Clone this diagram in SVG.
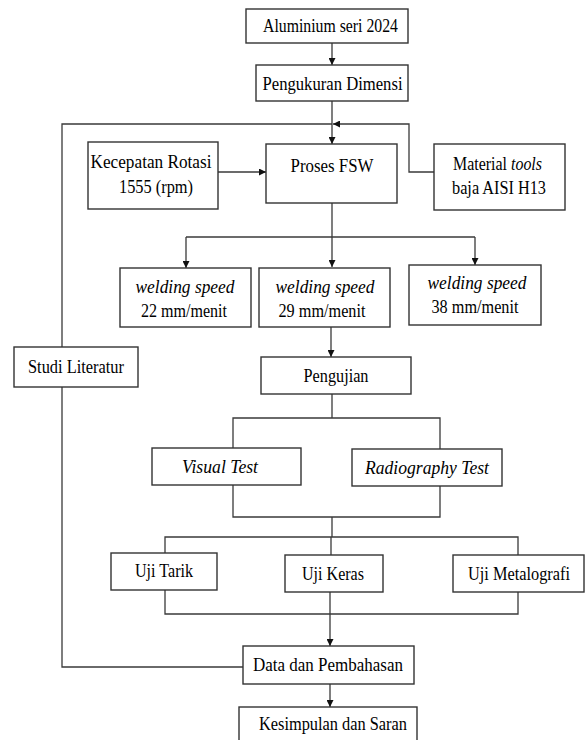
<svg xmlns="http://www.w3.org/2000/svg" width="585" height="740" viewBox="0 0 585 740">
<style>
.box{fill:#fff;stroke:#333;stroke-width:1.4}
.ln{fill:none;stroke:#3a3a3a;stroke-width:1.3}
text{font-family:"Liberation Serif","Times New Roman",serif;font-size:18.5px;fill:#000;text-anchor:middle}
.it{font-style:italic}
.st{text-anchor:start}
</style>
<defs>
<marker id="ah" viewBox="0 0 10 10" refX="10" refY="5" markerWidth="7" markerHeight="7" markerUnits="userSpaceOnUse" orient="auto">
<path d="M0,0 L10,5 L0,10 Z" fill="#111"/>
</marker>
</defs>
<rect width="585" height="740" fill="#fff"/>
<g id="connectors">
<path class="ln" d="M332,43 V65" marker-end="url(#ah)"/>
<path class="ln" d="M332,101 V144" marker-end="url(#ah)"/>
<path class="ln" d="M434,172 H409 V124 H333" marker-end="url(#ah)"/>
<path class="ln" d="M62,347 V124 H332"/>
<path class="ln" d="M243,667 H62 V387"/>
<path class="ln" d="M218,172 H266" marker-end="url(#ah)"/>
<path class="ln" d="M332,203 V237"/>
<path class="ln" d="M186,237 H475"/>
<path class="ln" d="M186,237 V268" marker-end="url(#ah)"/>
<path class="ln" d="M332,237 V267" marker-end="url(#ah)"/>
<path class="ln" d="M475,237 V265" marker-end="url(#ah)"/>
<path class="ln" d="M331,327 V357" marker-end="url(#ah)"/>
<path class="ln" d="M332,394 V418"/>
<path class="ln" d="M233,448 V418 H440 V449"/>
<path class="ln" d="M233,485 V517 H440 V486"/>
<path class="ln" d="M332,517 V537"/>
<path class="ln" d="M165,553 V537 H518 V555"/>
<path class="ln" d="M331,537 V555"/>
<path class="ln" d="M165,590 V614 H518 V592"/>
<path class="ln" d="M330,592 V646" marker-end="url(#ah)"/>
<path class="ln" d="M330,684 V707" marker-end="url(#ah)"/>
</g>
<g id="aluminium"><rect class="box" x="246" y="9" width="162" height="34"/><text x="330.5" y="32" textLength="135" lengthAdjust="spacingAndGlyphs">Aluminium seri 2024</text></g>
<g id="pengukuran"><rect class="box" x="256" y="65" width="152" height="36"/><text x="332.5" y="90" textLength="140" lengthAdjust="spacingAndGlyphs">Pengukuran Dimensi</text></g>
<g id="kecepatan"><rect class="box" x="88" y="142" width="130" height="67"/><text x="151" y="168" textLength="121" lengthAdjust="spacingAndGlyphs">Kecepatan Rotasi</text><text x="156" y="193" textLength="74" lengthAdjust="spacingAndGlyphs">1555 (rpm)</text></g>
<g id="proses"><rect class="box" x="266" y="144" width="131" height="59"/><text x="332" y="172" textLength="83" lengthAdjust="spacingAndGlyphs">Proses FSW</text></g>
<g id="material"><rect class="box" x="434" y="144" width="131" height="66"/><text x="497.5" y="170" textLength="89" lengthAdjust="spacingAndGlyphs">Material <tspan class="it">tools</tspan></text><text x="499" y="194" textLength="94" lengthAdjust="spacingAndGlyphs">baja AISI H13</text></g>
<g id="ws22"><rect class="box" x="120" y="268" width="131" height="59"/><text class="it" x="185" y="293" textLength="99" lengthAdjust="spacingAndGlyphs">welding speed</text><text x="184" y="317" textLength="86" lengthAdjust="spacingAndGlyphs">22 mm/menit</text></g>
<g id="ws29"><rect class="box" x="259" y="268" width="131" height="59"/><text class="it" x="325" y="293" textLength="99" lengthAdjust="spacingAndGlyphs">welding speed</text><text x="322" y="317" textLength="87" lengthAdjust="spacingAndGlyphs">29 mm/menit</text></g>
<g id="ws38"><rect class="box" x="409" y="265" width="132" height="60"/><text class="it" x="477" y="289" textLength="99" lengthAdjust="spacingAndGlyphs">welding speed</text><text x="475" y="313" textLength="87" lengthAdjust="spacingAndGlyphs">38 mm/menit</text></g>
<g id="studi"><rect class="box" x="14" y="347" width="124" height="40"/><text x="76" y="373" textLength="96" lengthAdjust="spacingAndGlyphs">Studi Literatur</text></g>
<g id="pengujian"><rect class="box" x="261" y="357" width="150" height="37"/><text x="336" y="382" textLength="65" lengthAdjust="spacingAndGlyphs">Pengujian</text></g>
<g id="visual"><rect class="box" x="152" y="448" width="149" height="37"/><text class="it" x="220" y="473" textLength="76" lengthAdjust="spacingAndGlyphs">Visual Test</text></g>
<g id="radiography"><rect class="box" x="352" y="449" width="150" height="37"/><text class="it" x="427" y="474" textLength="124" lengthAdjust="spacingAndGlyphs">Radiography Test</text></g>
<g id="ujitarik"><rect class="box" x="111" y="553" width="106" height="37"/><text x="164" y="577" textLength="58" lengthAdjust="spacingAndGlyphs">Uji Tarik</text></g>
<g id="ujikeras"><rect class="box" x="285" y="555" width="98" height="37"/><text x="333" y="580" textLength="62" lengthAdjust="spacingAndGlyphs">Uji Keras</text></g>
<g id="ujimetalografi"><rect class="box" x="453" y="555" width="131" height="37"/><text x="519" y="580" textLength="102" lengthAdjust="spacingAndGlyphs">Uji Metalografi</text></g>
<g id="data"><rect class="box" x="243" y="646" width="171" height="38"/><text x="328" y="671" textLength="150" lengthAdjust="spacingAndGlyphs">Data dan Pembahasan</text></g>
<g id="kesimpulan"><rect class="box" x="239" y="707" width="178" height="40"/><text x="333" y="730" textLength="148" lengthAdjust="spacingAndGlyphs">Kesimpulan dan Saran</text></g>
</svg>
